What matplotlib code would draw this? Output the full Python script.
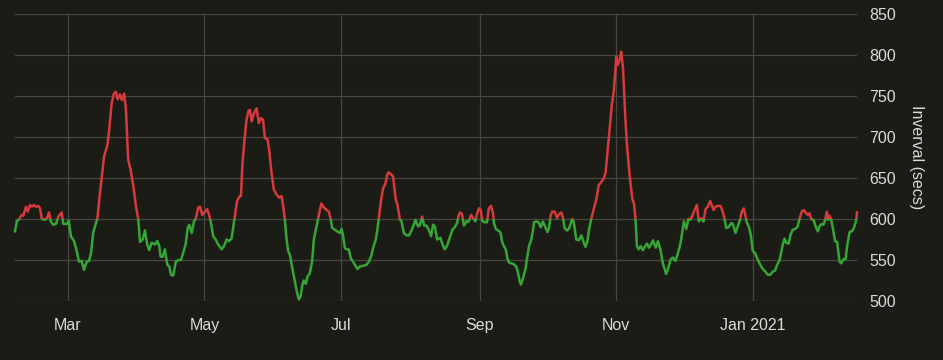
import datetime as dt

import matplotlib
matplotlib.use("Agg")
import matplotlib.pyplot as plt
import matplotlib.dates as mdates
from matplotlib.patches import Rectangle
import numpy as np

# ---------------------------------------------------------
# Data: days after 2020-03-01 and interval in seconds
# ---------------------------------------------------------
start = dt.datetime(2020, 3, 1)

days = [
    -23.7, -22.9, -21.8, -20.7, -20.0, -18.8, -18.0, -17.0, -16.2, -15.2,
    -14.3, -13.3, -12.5, -11.7, -10.3, -9.2, -8.5, -7.7, -6.6, -5.4,
    -4.3, -2.8, -2.1, -0.6, 0.3, 1.3, 2.7, 3.9, 4.9, 6.1,
    7.1, 8.4, 9.4, 10.3, 11.3, 12.5, 13.1, 14.3, 16.1, 17.7,
    18.4, 19.5, 20.5, 21.4, 22.2, 23.2, 24.1, 25.1, 25.9, 26.9,
    28.0, 29.2, 30.4, 31.4, 32.2, 33.4, 34.4, 35.4, 36.3, 37.4,
    38.9, 39.9, 40.8, 41.4, 42.3, 43.3, 44.4, 45.3, 46.0, 47.0,
    48.2, 49.3, 50.5, 51.5, 52.6, 53.5, 54.2, 55.3, 56.3, 57.2,
    58.2, 59.0, 60.0, 61.2, 62.2, 63.1, 63.9, 64.9, 66.0, 67.1,
    68.7, 69.7, 70.9, 71.9, 73.1, 73.8, 74.6, 75.6, 76.5, 77.3,
    78.0, 78.9, 79.8, 80.7, 81.3, 82.1, 83.1, 84.3, 85.3, 86.2,
    87.2, 88.0, 89.2, 89.9, 91.0, 92.0, 93.2, 94.4, 95.5, 96.2,
    96.9, 97.7, 98.4, 99.2, 100.4, 101.4, 102.4, 103.2, 103.9, 104.8,
    105.4, 106.3, 107.1, 108.1, 109.1, 109.9, 110.8, 111.8, 112.6, 113.3,
    114.4, 115.6, 116.6, 117.4, 118.1, 119.3, 120.3, 121.5, 122.3, 123.0,
    123.7, 124.5, 125.5, 126.4, 127.4, 128.5, 129.4, 130.4, 131.9, 133.4,
    134.5, 135.7, 136.4, 137.6, 138.3, 138.9, 139.8, 140.8, 141.9, 142.8,
    143.4, 144.6, 145.3, 146.5, 147.3, 148.3, 149.1, 150.1, 151.3, 152.5,
    153.5, 154.6, 155.3, 156.5, 157.2, 158.3, 159.2, 160.2, 161.4, 162.3,
    163.2, 164.0, 165.0, 165.7, 166.5, 167.4, 168.4, 169.4, 170.6, 171.9,
    172.9, 173.9, 174.7, 175.4, 176.1, 177.0, 178.1, 179.1, 180.2, 181.1,
    182.1, 182.8, 183.7, 184.5, 185.2, 186.0, 187.3, 188.1, 189.1, 190.0,
    190.4, 191.2, 192.2, 193.3, 194.0, 194.8, 195.7, 196.4, 197.1, 198.2,
    199.2, 200.4, 201.2, 201.9, 202.5, 203.4, 204.5, 205.3, 206.1, 207.1,
    207.9, 208.3, 209.4, 210.4, 211.3, 212.3, 213.4, 214.3, 215.0, 215.8,
    216.5, 217.6, 218.6, 219.5, 220.5, 221.3, 222.0, 223.0, 223.9, 225.4,
    226.1, 227.2, 228.3, 229.5, 230.2, 231.3, 232.2, 232.9, 233.9, 235.0,
    236.2, 237.2, 238.4, 239.6, 240.3, 241.1, 242.1, 243.1, 244.0, 245.1,
    245.8, 246.6, 247.3, 248.1, 249.1, 249.8, 250.7, 251.5, 252.3, 253.0,
    253.7, 254.3, 255.1, 256.0, 257.0, 257.8, 258.8, 259.7, 260.4, 261.5,
    262.7, 263.7, 264.8, 265.9, 267.4, 268.5, 269.4, 270.4, 271.5, 272.4,
    273.7, 274.6, 275.3, 276.4, 277.3, 278.2, 279.1, 280.1, 281.1, 282.0,
    283.1, 284.1, 285.0, 286.0, 287.1, 288.6, 289.5, 290.5, 291.7, 292.7,
    293.5, 294.2, 295.3, 296.5, 297.2, 298.4, 299.4, 300.5, 301.2, 302.1,
    302.9, 303.4, 304.3, 305.2, 306.1, 307.2, 308.1, 309.1, 310.3, 311.7,
    312.8, 314.0, 315.1, 316.1, 317.0, 318.1, 318.8, 319.5, 320.3, 321.0,
    322.1, 323.0, 324.0, 325.2, 326.2, 327.0, 328.0, 328.9, 330.0, 330.7,
    331.5, 332.2, 333.3, 334.2, 335.2, 335.9, 336.9, 337.7, 338.5, 339.2,
    339.9, 340.4, 341.1, 341.9, 342.9, 343.8, 344.9, 345.6, 346.7, 347.6,
    348.4, 349.4, 350.4, 351.3, 352.4, 352.7,
]

interval = [
    585, 597, 600, 605, 604, 615, 609, 617, 615, 617,
    615, 616, 613, 600, 599, 602, 608, 597, 593, 594,
    603, 608, 594, 594, 598, 579, 573, 561, 548, 549,
    538, 548, 549, 559, 584, 595, 600, 632, 676, 691,
    709, 741, 753, 755, 746, 752, 745, 753, 733, 672,
    660, 640, 615, 600, 572, 575, 586, 569, 562, 571,
    569, 573, 567, 554, 554, 563, 544, 542, 532, 531,
    548, 550, 550, 559, 569, 589, 593, 583, 597, 601,
    614, 615, 605, 609, 612, 605, 595, 579, 575, 569,
    563, 567, 575, 573, 576, 589, 603, 622, 627, 628,
    668, 697, 721, 732, 733, 719, 729, 735, 717, 723,
    721, 699, 697, 685, 656, 636, 630, 626, 628, 615,
    600, 575, 561, 556, 538, 524, 510, 502, 505, 520,
    525, 521, 530, 534, 548, 575, 587, 600, 611, 619,
    614, 611, 609, 600, 589, 587, 585, 583, 588, 579,
    565, 563, 563, 552, 548, 543, 539, 542, 543, 544,
    548, 556, 565, 575, 587, 600, 620, 637, 643, 655,
    657, 654, 652, 624, 617, 600, 597, 583, 580, 580,
    586, 593, 599, 591, 592, 603, 592, 592, 586, 579,
    593, 591, 575, 576, 577, 569, 563, 567, 577, 587,
    590, 595, 605, 608, 606, 592, 597, 597, 605, 601,
    597, 606, 613, 611, 598, 596, 596, 613, 616, 607,
    595, 588, 586, 584, 573, 567, 563, 552, 547, 546,
    545, 542, 534, 524, 520, 528, 539, 554, 567, 575,
    587, 596, 597, 596, 590, 597, 590, 584, 589, 605,
    609, 609, 601, 606, 608, 601, 589, 586, 588, 600,
    596, 575, 574, 580, 574, 566, 573, 587, 600, 612,
    624, 641, 645, 650, 656, 680, 709, 739, 756, 798,
    788, 794, 804, 784, 725, 693, 664, 642, 624, 619,
    600, 567, 563, 567, 562, 566, 570, 565, 568, 574,
    565, 573, 563, 546, 533, 542, 551, 553, 549, 556,
    569, 584, 597, 588, 600, 599, 604, 611, 617, 597,
    601, 597, 612, 615, 622, 611, 615, 616, 616, 609,
    600, 589, 590, 595, 594, 583, 591, 600, 609, 613,
    603, 596, 591, 581, 561, 558, 552, 546, 540, 536,
    532, 532, 536, 537, 544, 550, 559, 569, 576, 571,
    570, 581, 587, 588, 591, 600, 609, 611, 607, 605,
    607, 600, 599, 591, 585, 591, 594, 593, 599, 609,
    599, 604, 600, 589, 573, 572, 548, 546, 551, 551,
    569, 584, 585, 589, 599, 608,
]

threshold = 600
month_ticks = ["2020-03-01", "2020-05-01", "2020-07-01", "2020-09-01",
               "2020-11-01", "2021-01-01"]
month_labels = ["Mar", "May", "Jul", "Sep", "Nov", "Jan 2021"]

# ---------------------------------------------------------
# Plot
# ---------------------------------------------------------
bg = "#1c1c17"
text_col = "#dcdcd4"
grid_col = "#47473f"

plt.rcParams["font.family"] = ["Liberation Sans", "DejaVu Sans"]

x = mdates.date2num(start) + np.array(days)
y = np.array(interval)

fig = plt.figure(figsize=(9.43, 3.6), dpi=100, facecolor=bg)
ax = fig.add_axes([15 / 943, 1 - 301 / 360, 842 / 943, 287 / 360])
ax.set_facecolor(bg)

red, = ax.plot(x, y, color="#d63a3c", lw=1.8, solid_joinstyle="round")
green, = ax.plot(x, y, color="#35a636", lw=1.8, solid_joinstyle="round")

# colour by threshold: clip each copy of the line to its half
span = x[-1] - x[0]
top_clip = Rectangle((x[0] - span, threshold), 3 * span, 1000, transform=ax.transData)
bot_clip = Rectangle((x[0] - span, threshold - 1000), 3 * span, 1000, transform=ax.transData)
red.set_clip_path(top_clip)
green.set_clip_path(bot_clip)

ax.set_xlim(x[0], x[-1])
ax.set_ylim(500, 850)

ax.set_xticks([mdates.date2num(dt.datetime.fromisoformat(d)) for d in month_ticks])
ax.set_xticklabels(month_labels)
ax.set_yticks(np.arange(500, 851, 50))

ax.yaxis.tick_right()
ax.yaxis.set_label_position("right")
ax.tick_params(axis="both", length=0, colors=text_col, labelsize=11.5)
ax.tick_params(axis="x", pad=12)
ax.tick_params(axis="y", pad=9)
ax.set_ylabel("Inverval (secs)", color=text_col, fontsize=11.5, rotation=270,
              labelpad=20)

ax.grid(True, color=grid_col, lw=0.9)
ax.set_axisbelow(True)
for s in ax.spines.values():
    s.set_visible(False)

fig.savefig("out.png", dpi=100, facecolor=bg)
